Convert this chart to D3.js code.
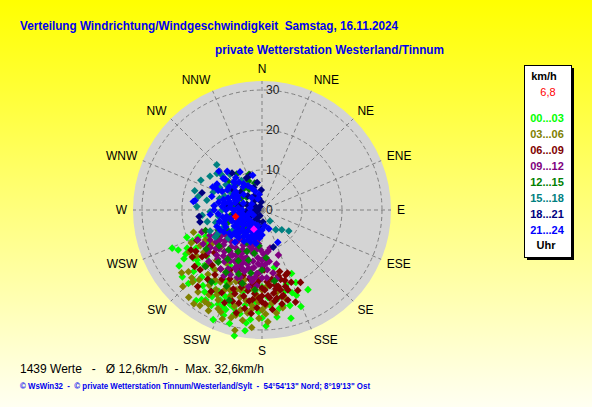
<!DOCTYPE html>
<html>
<head>
<meta charset="utf-8">
<script src="https://cdn.jsdelivr.net/npm/d3@7"></script>
<style>
  html, body { margin: 0; padding: 0; overflow: hidden; }
  svg { display: block; }
  text { font-family: "Liberation Sans", Arial, sans-serif; }
</style>
</head>
<body>
<div id="chart"></div>
<script>
// Data
const compass = ['N', 'NNE', 'NE', 'ENE', 'E', 'ESE', 'SE', 'SSE', 'S', 'SSW', 'SW', 'WSW', 'W', 'WNW', 'NW', 'NNW']
const ringTicks = [0, 10, 20, 30]
const hourLabels = ['00...03', '03...06', '06...09', '09...12', '12...15', '15...18', '18...21', '21...24']
const hourColors = ['#00ff00', '#808000', '#800000', '#800080', '#008000', '#008080', '#000080', '#0000ff']
const currentLabel = '6,8'
const statsLine = '1439 Werte   -   Ø 12,6km/h  -  Max. 32,6km/h'
const footerLine = '© WsWin32  -  © private Wetterstation Tinnum/Westerland/Sylt  -  54°54\'13" Nord; 8°19\'13" Ost'

// [direction in degrees, speed in km/h]
const h00_03 = [[247, 24.4], [244.5, 23.2], [192.4, 32.2], [163.7, 24.9], [167.5, 24.5], [155, 20], [155, 17.5], [168, 14.7],
  [210.4, 23.2], [205, 24.8], [247, 17.3], [232.4, 20.5], [200, 28], [198.6, 25], [190, 24.1], [176.5, 19.2], [180, 19.2],
  [215, 25], [212, 26.5], [208, 27], [218, 24], [222, 22.5], [228, 23], [235, 21], [240, 19], [238, 23], [225, 26],
  [202, 26], [195, 27], [186, 27.5], [182, 25.5], [175, 24], [170, 22.5], [160, 22], [185, 20.5], [193, 21], [200, 22.5],
  [207, 20], [213, 21.5], [220, 19], [230, 18], [243, 21], [250, 20], [196, 29.5], [204, 30], [188, 30.5], [178, 29],
  [172, 27], [165, 28], [158, 26], [150, 23], [162, 19.5], [216, 28], [230, 26], [245, 15.5], [238, 16], [210, 16], [198, 18],
  [205, 26], [210, 25], [214, 27], [200, 26.5], [196, 25.5], [208, 23], [212, 24], [203, 23.5], [218, 22], [224, 24.5],
  [230, 21], [236, 25], [192, 26.5], [188, 28.5], [184, 23], [180, 27], [176, 22], [170, 25], [164, 21], [158, 23],
  [226, 20], [240, 22], [246, 19]]
const h03_06 = [[226, 24.4], [213, 28.5], [209.6, 27.1], [194, 27.1], [192.7, 30.8], [181.6, 27.1], [207, 17.7], [210, 20.8],
  [195, 20.7], [183.6, 21.3], [174, 23.4], [200, 19], [205, 22], [215, 23], [220, 21], [225, 19], [230, 22], [235, 20],
  [212, 25], [198, 24], [190, 23], [186, 25], [178, 24], [172, 26], [180, 20], [188, 18], [196, 16], [204, 15], [214, 16],
  [222, 17], [218, 26], [204, 27], [200, 29], [190, 28], [185, 29.5], [177, 28], [168, 25], [176, 19], [240, 21],
  [245, 19.5], [232, 25.5], [226, 27.5], [216, 29], [208, 24], [194, 22.5], [202, 21.5], [210, 18], [184, 22], [170, 21],
  [165, 23], [228, 14], [236, 15], [242, 16], [220, 28.5], [252, 18], [240, 17.8],
  [200, 23], [196, 25], [192, 25.5], [188, 26], [206, 25], [210, 23], [214, 21], [218, 19], [222, 23.5], [204, 20],
  [198, 21], [192, 19.5], [186, 20], [182, 23], [178, 26], [202, 27.5], [208, 28.5], [196, 28], [212, 27], [224, 25],
  [230, 24], [234, 18], [180, 25], [186, 24], [194, 18]]
const h06_09 = [[240.6, 20.4], [238, 19.5], [231, 18], [222, 18.6], [170, 19], [164, 23.4], [182, 17.5], [160, 17.3],
  [167, 20.5], [165, 18], [172, 21], [175, 22], [178, 20], [180, 23], [185, 21], [188, 19], [192, 22], [195, 20],
  [198, 24], [200, 21], [205, 19], [210, 20], [215, 18], [218, 22], [225, 20], [228, 16], [235, 16], [245, 18],
  [162, 21], [158, 19.5], [168, 24], [174, 25], [183, 24.5], [190, 25], [176, 18], [184, 16], [196, 17], [206, 23],
  [212, 24], [220, 25], [230, 22], [170, 16], [166, 22], [178, 15], [188, 23], [200, 15.5], [208, 17], [156, 22],
  [160, 24.5], [186, 26], [194, 26.5], [180, 19.5], [172, 17.5], [163, 20], [152, 20.5], [167, 22.2], [170.5, 22.4],
  [168, 19.5], [172, 23], [176, 21.5], [180, 21.5], [184, 18.5], [178, 23.5], [170, 20], [166, 17], [162, 18.5],
  [174, 19], [186, 22.5], [190, 20.5], [194, 24], [198, 22], [202, 25], [182, 22], [164, 16], [158, 17], [232, 19],
  [236, 21], [226, 21.5], [216, 20], [190, 17.5], [196, 19]]
const h09_12 = [[168, 9.7], [176, 12.1], [190, 8], [234.5, 12.9], [202, 14.8], [245, 17.7], [198, 17.6], [168, 17.5],
  [195, 10], [200, 11], [205, 12], [210, 13], [215, 14], [220, 15], [225, 16], [230, 15], [200, 13], [195, 14], [190, 15],
  [185, 16], [180, 14], [185, 12], [190, 13], [205, 16], [210, 17], [215, 18], [220, 12], [225, 11], [230, 12], [235, 14],
  [240, 15], [200, 18], [195, 19], [188, 18], [180, 17], [175, 15], [172, 13], [182, 10], [192, 11], [208, 10], [218, 10],
  [228, 13], [212, 15], [202, 16.5], [198, 12.5], [206, 14], [214, 11.5], [222, 14], [188, 14.5], [178, 11], [238, 12],
  [244, 14.5], [196, 16], [184, 13.5], [170, 16], [165, 14], [160, 12], [232, 17], [226, 18.5], [210, 19], [250, 16],
  [238, 10], [194, 9], [186, 8.5],
  [198, 15.5], [193, 15], [203, 15], [208, 14.5], [213, 13.5], [218, 13], [222, 16.5], [200, 14], [196, 13], [204, 13],
  [190, 17], [186, 17], [182, 15.5], [176, 13.5], [172, 10.5], [180, 12.5], [188, 10], [198, 9.5], [206, 11], [212, 9],
  [216, 16], [228, 14.5], [234, 16], [240, 17], [242, 13], [236, 11], [190, 19.5], [176, 17], [184, 19], [206, 18]]
const h12_15 = [[328, 6.1], [320, 7], [335, 8], [310, 5], [300, 6], [290, 4], [340, 9.5], [345, 7], [315, 9], [325, 11],
  [270, 5], [280, 8], [234, 10], [225, 9], [215, 8], [205, 9], [200, 11], [210, 12], [220, 13], [230, 14], [240, 13],
  [215, 15], [205, 14], [195, 13], [190, 11], [185, 9], [200, 17], [210, 18], [220, 17], [195, 19], [205, 21], [215, 22],
  [225, 20], [190, 16], [180, 15], [175, 12], [185, 20], [170, 18], [235, 17], [245, 12], [250, 15], [200, 24],
  [260, 8], [250, 9], [240, 10], [230, 7], [220, 6], [275, 7], [285, 6], [300, 9], [310, 11]]
const h15_18 = [[309, 14.5], [311, 13.3], [282, 16.3], [273, 16.3], [242, 12.4], [144, 3.4], [135, 7], [298, 12],
  [305, 11], [290, 13], [285, 11], [275, 12], [268, 13], [262, 11], [255, 12], [250, 10], [245, 11], [300, 9], [310, 9.5],
  [318, 12], [325, 9], [280, 14], [265, 15], [258, 14], [290, 10], [270, 10], [235, 9], [240, 13.5], [315, 16],
  [303, 15.5], [296, 17], [286, 17.5], [248, 14], [230, 11], [330, 7], [145, 6], [128, 8.5]]
const h18_21 = [[321, 11.9], [334, 8.9], [341, 9.2], [286, 15.6], [264, 15.8], [259, 15.8], [163, 9.7], [328, 1],
  [300, 2], [290, 4], [270, 2], [250, 3], [240, 5], [230, 4], [315, 5], [330, 4], [345, 3], [355, 2], [260, 7], [275, 9],
  [305, 9], [310, 7], [285, 5], [340, 6], [320, 3], [350, 7], [265, 4], [280, 6], [295, 8], [225, 7], [215, 5], [200, 3],
  [190, 4], [175, 3], [358, 5], [270, 1], [205, 4.1], [230, 3.9],
  [250, 1.5], [230, 2], [210, 2], [200, 1.5], [240, 3.5], [260, 4], [215, 3], [280, 2]]
const h21_24 = [[300, 7], [305, 8], [310, 6], [295, 6.5], [290, 5], [285, 7], [280, 8], [275, 6], [270, 5], [265, 7],
  [260, 6], [255, 5], [250, 4], [245, 6], [240, 5], [235, 4], [230, 6], [225, 5], [220, 4], [215, 6], [210, 5], [205, 4],
  [200, 6], [320, 9], [315, 10], [325, 8], [330, 7], [335, 6], [340, 5], [300, 10], [295, 11], [290, 9], [285, 10],
  [280, 11], [270, 9], [260, 9], [250, 8], [240, 8], [230, 8], [220, 7], [210, 7.5], [200, 7], [195, 6], [190, 5],
  [300, 3], [280, 3], [260, 3], [240, 2.5], [320, 4], [340, 3], [350, 4], [250, 10], [265, 11], [275, 12], [310, 12],
  [318, 13], [300, 13], [330, 11], [345, 9], [312, 14.5], [285, 13], [277, 17.3], [278, 16.9], [295, 13.6], [296, 13],
  [294, 12], [309, 12.5], [315, 9.6], [321, 10.4], [321, 7.5], [154, 9], [160, 5], [170, 4], [180, 5], [185, 7],
  [190, 8.5], [250, 12], [235, 10], [225, 9],
  [265, 5.5], [260, 5], [250, 6], [245, 7], [240, 7], [235, 7.5], [230, 9], [225, 8], [220, 9], [215, 8], [210, 9],
  [205, 8], [200, 8.5], [195, 7.5], [190, 6.5], [185, 5.5], [255, 8], [260, 10], [255, 11], [245, 10], [240, 11],
  [244.5, 11.6], [204, 7.4], [180, 6.25], [265, 13], [270, 12], [275, 10], [280, 9.5], [285, 8.5], [290, 7], [295, 8],
  [300, 8], [305, 10], [310, 9], [270, 7], [275, 8], [255, 9.5], [235, 6], [225, 7], [215, 7], [205, 6], [200, 5],
  [195, 4], [230, 10], [220, 10.5]]
const currentPoint = [[256, 6.8]]
const extraPoint = [[203, 5.2]]

const series = [h00_03, h03_06, h06_09, h09_12, h12_15, h15_18, h18_21, h21_24]

// Dimensions
const dimensions = { width: 592, height: 407, cx: 262, cy: 210, outer: 32.25 }

const svg = d3.select('#chart')
  .append('svg')
  .attr('width', dimensions.width)
  .attr('height', dimensions.height)

// Background
const grad = svg.append('defs').append('linearGradient')
  .attr('id', 'bg')
  .attr('x1', 0).attr('y1', 0).attr('x2', 0).attr('y2', 1)
grad.append('stop').attr('offset', '0%').attr('stop-color', '#ffff00')
grad.append('stop').attr('offset', '100%').attr('stop-color', '#fffff2')

svg.append('rect')
  .attr('width', dimensions.width)
  .attr('height', dimensions.height)
  .attr('fill', 'url(#bg)')

// Scales
const rScale = d3.scaleLinear().domain([0, 30]).range([0, 120])
const aScale = d3.scaleLinear().domain([0, 360]).range([0, 2 * Math.PI])
const px = (d) => rScale(d[1]) * Math.sin(aScale(d[0]))
const py = (d) => -rScale(d[1]) * Math.cos(aScale(d[0]))

const ctr = svg.append('g')
  .attr('transform', `translate(${dimensions.cx}, ${dimensions.cy})`)

ctr.append('circle')
  .attr('r', rScale(dimensions.outer))
  .attr('fill', '#d4d4d4')

// Grid
ctr.selectAll('.ring')
  .data(ringTicks.filter(d => d > 0))
  .join('circle')
  .attr('r', d => rScale(d))
  .attr('fill', 'none')
  .attr('stroke', '#808080')
  .attr('stroke-dasharray', '4 3')

ctr.selectAll('.spoke')
  .data(compass)
  .join('line')
  .attr('x2', (_, i) => px([i * 22.5, dimensions.outer]))
  .attr('y2', (_, i) => py([i * 22.5, dimensions.outer]))
  .attr('stroke', '#808080')
  .attr('stroke-dasharray', '4 3')

ctr.selectAll('.ring-label')
  .data(ringTicks)
  .join('text')
  .text(d => d)
  .attr('x', 4)
  .attr('y', d => -rScale(d))
  .attr('dy', '0.35em')
  .attr('font-size', 12)
  .attr('fill', '#222')

// Compass labels
ctr.selectAll('.dir')
  .data(compass)
  .join('text')
  .text(d => d)
  .attr('x', (_, i) => 135 * Math.sin(aScale(i * 22.5)))
  .attr('y', (_, i) => -141 * Math.cos(aScale(i * 22.5)))
  .attr('dy', '0.35em')
  .attr('font-size', 12)
  .attr('fill', '#000')
  .attr('text-anchor', (_, i) => (i === 0 || i === 8) ? 'middle' : (i < 8 ? 'start' : 'end'))

// Points
const diamond = (d) => {
  const x = px(d), y = py(d), s = 3.8
  return `M${x},${y - s}L${x + s},${y}L${x},${y + s}L${x - s},${y}Z`
}

series.forEach((data, i) => {
  ctr.append('g')
    .selectAll('path')
    .data(data)
    .join('path')
    .attr('d', diamond)
    .attr('fill', hourColors[i])
})

ctr.selectAll('.extra')
  .data(extraPoint)
  .join('path')
  .attr('d', diamond)
  .attr('fill', '#ff00ff')

ctr.selectAll('.current')
  .data(currentPoint)
  .join('path')
  .attr('d', diamond)
  .attr('fill', '#ff0000')

// Titles
svg.append('text')
  .text('Verteilung Windrichtung/Windgeschwindigkeit  Samstag, 16.11.2024')
  .attr('x', 20)
  .attr('y', 30)
  .attr('font-size', 12.5)
  .attr('font-weight', 'bold')
  .attr('fill', '#0000ee')
  .attr('textLength', 378)
  .attr('lengthAdjust', 'spacingAndGlyphs')
  .style('white-space', 'pre')

svg.append('text')
  .text('private Wetterstation Westerland/Tinnum')
  .attr('x', 215)
  .attr('y', 54)
  .attr('font-size', 12.5)
  .attr('font-weight', 'bold')
  .attr('fill', '#0000ee')
  .attr('textLength', 229)
  .attr('lengthAdjust', 'spacingAndGlyphs')

// Legend
const legend = svg.append('g').attr('transform', 'translate(524, 65)')
legend.append('rect')
  .attr('x', 3).attr('y', 3)
  .attr('width', 47).attr('height', 192)
  .attr('fill', '#000')
legend.append('rect')
  .attr('x', 0.5).attr('y', 0.5)
  .attr('width', 47).attr('height', 192)
  .attr('fill', '#fff')
  .attr('stroke', '#000')

legend.append('text')
  .text('km/h')
  .attr('x', 20).attr('y', 15)
  .attr('text-anchor', 'middle')
  .attr('font-size', 11)
  .attr('font-weight', 'bold')

legend.append('text')
  .text(currentLabel)
  .attr('x', 24).attr('y', 31)
  .attr('text-anchor', 'middle')
  .attr('font-size', 11)
  .attr('fill', '#ff0000')

legend.selectAll('.hour')
  .data(hourLabels)
  .join('text')
  .text(d => d)
  .attr('x', 23)
  .attr('y', (_, i) => 57 + i * 16)
  .attr('text-anchor', 'middle')
  .attr('font-size', 11)
  .attr('font-weight', 'bold')
  .attr('fill', (_, i) => hourColors[i])

legend.append('text')
  .text('Uhr')
  .attr('x', 22).attr('y', 184)
  .attr('text-anchor', 'middle')
  .attr('font-size', 11)
  .attr('font-weight', 'bold')

// Footer
svg.append('text')
  .text(statsLine)
  .attr('x', 20)
  .attr('y', 373)
  .attr('font-size', 12)
  .style('white-space', 'pre')

svg.append('text')
  .text(footerLine)
  .attr('x', 20)
  .attr('y', 389)
  .attr('font-size', 9)
  .attr('font-weight', 'bold')
  .attr('fill', '#0000ee')
  .attr('textLength', 350)
  .attr('lengthAdjust', 'spacingAndGlyphs')
  .style('white-space', 'pre')
</script>
</body>
</html>
